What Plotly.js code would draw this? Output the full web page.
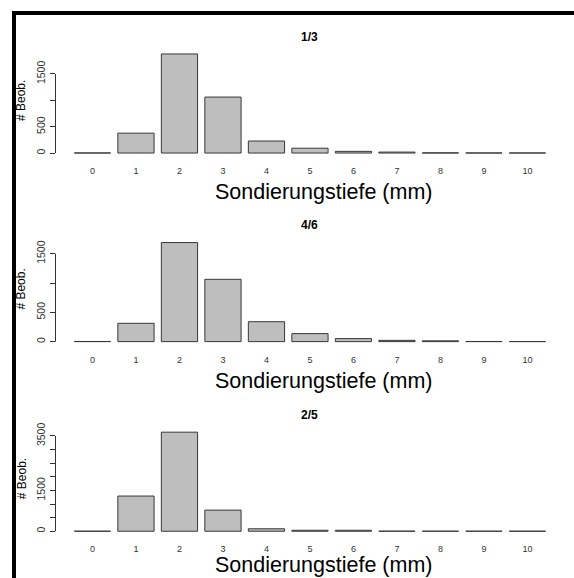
<!DOCTYPE html>
<html>
<head>
<meta charset="utf-8">
<script src="https://cdn.plot.ly/plotly-3.0.1.min.js"></script>
<style>html,body{margin:0;padding:0;background:#fff}#chart{width:574px;height:578px}</style>
</head>
<body>
<div id="chart"></div>
<script>
// ---- data ----
var depthLabels = ['0','1','2','3','4','5','6','7','8','9','10'];
var depths = [0,1,2,3,4,5,6,7,8,9,10];
var panelTitles = ['1/3', '4/6', '2/5'];
var counts13 = [2, 377, 1880, 1062, 228, 92, 32, 18, 4, 2, 2];
var counts46 = [3, 313, 1690, 1063, 340, 137, 52, 22, 14, 3, 2];
var counts25 = [2, 1293, 3640, 776, 90, 35, 35, 4, 3, 3, 2];
var yTickVals13 = [0, 500, 1000, 1500];
var yTickText13 = ['0', '500', '', '1500'];
var yTickVals46 = [0, 500, 1000, 1500];
var yTickText46 = ['0', '500', '', '1500'];
var yTickVals25 = [0, 500, 1000, 1500, 2000, 2500, 3000, 3500];
var yTickText25 = ['0', '', '', '1500', '', '', '', '3500'];
var xTitle = 'Sondierungstiefe (mm)';
var yTitle = '# Beob.';

(function () {
  var W = 574, H = 578;
  var FONT = 'Liberation Sans, Arial, Helvetica, sans-serif';
  var xDom = [55.5 / W, 564.4 / W];
  var panelBottoms = [157, 345.6, 535.2];
  var xTitleY = [191.5, 380.5, 565];
  var panelHeight = 107;
  var seriesList = [counts13, counts46, counts25];
  var tickVals = [yTickVals13, yTickVals46, yTickVals25];
  var tickTexts = [yTickText13, yTickText46, yTickText25];

  var data = [];
  var layout = {
    width: W, height: H,
    margin: {l: 0, r: 0, t: 0, b: 0},
    paper_bgcolor: '#fff', plot_bgcolor: '#fff',
    showlegend: false,
    font: {family: FONT, color: '#000'},
    shapes: [], annotations: []
  };

  for (var i = 0; i < 3; i++) {
    var sfx = i === 0 ? '' : String(i + 1);
    var vals = seriesList[i];
    var mx = Math.max.apply(null, vals);
    data.push({
      type: 'bar', x: depths, y: vals,
      xaxis: 'x' + sfx, yaxis: 'y' + sfx,
      width: 1 / 1.2,
      marker: {color: '#bebebe', line: {color: '#383838', width: 1}},
      hoverinfo: 'x+y'
    });
    var pBot = panelBottoms[i], pTop = pBot - panelHeight;
    var yDom = [1 - pBot / H, 1 - pTop / H];
    layout['xaxis' + sfx] = {
      domain: xDom, anchor: 'y' + sfx, range: [-0.85, 10.85],
      tickvals: depths, ticktext: depthLabels, ticks: '',
      showline: false, showgrid: false, zeroline: false,
      tickfont: {size: 9, color: '#333', family: FONT},
      ticklabelstandoff: 7
    };
    layout['yaxis' + sfx] = {
      domain: yDom, anchor: 'x' + sfx, range: [-0.04 * mx, 1.04 * mx],
      tickvals: tickVals[i], ticktext: tickTexts[i],
      ticks: 'outside', ticklen: 5, tickcolor: '#333', tickwidth: 1,
      tickangle: -90,
      showline: false, showgrid: false, zeroline: false,
      tickfont: {size: 10.5, color: '#333', family: FONT}
    };
    var tv = tickVals[i];
    layout.shapes.push({
      type: 'line', xref: 'paper', yref: 'y' + sfx,
      x0: xDom[0], x1: xDom[0], y0: tv[0], y1: tv[tv.length - 1],
      line: {color: '#333', width: 1}
    });
    // panel title
    layout.annotations.push({
      text: '<b>' + panelTitles[i] + '</b>', showarrow: false,
      xref: 'paper', yref: 'paper',
      x: (xDom[0] + xDom[1]) / 2, y: 1 - (pTop - 13.5) / H,
      xanchor: 'center', yanchor: 'middle',
      font: {size: 12, color: '#000', family: FONT}
    });
    // x axis title
    layout.annotations.push({
      text: xTitle, showarrow: false,
      xref: 'paper', yref: 'paper',
      x: 323 / W, y: 1 - xTitleY[i] / H,
      xanchor: 'center', yanchor: 'middle',
      font: {size: 21.5, color: '#000', family: FONT}
    });
    // y axis title
    layout.annotations.push({
      text: yTitle, showarrow: false, textangle: -90,
      xref: 'paper', yref: 'paper',
      x: 21.5 / W, y: 1 - (pBot - panelHeight / 2 - 3) / H,
      xanchor: 'center', yanchor: 'middle',
      font: {size: 12, color: '#000', family: FONT}
    });
  }

  // black frame (left and top)
  layout.shapes.push({type: 'rect', xref: 'paper', yref: 'paper', x0: 12 / W, x1: 16 / W, y0: 0, y1: 1 - 11 / H, fillcolor: '#000', line: {width: 0}, layer: 'above'});
  layout.shapes.push({type: 'rect', xref: 'paper', yref: 'paper', x0: 12 / W, x1: 1, y0: 1 - 15 / H, y1: 1 - 11 / H, fillcolor: '#000', line: {width: 0}, layer: 'above'});

  Plotly.newPlot('chart', data, layout, {displayModeBar: false, staticPlot: true});
})();
</script>
</body>
</html>
